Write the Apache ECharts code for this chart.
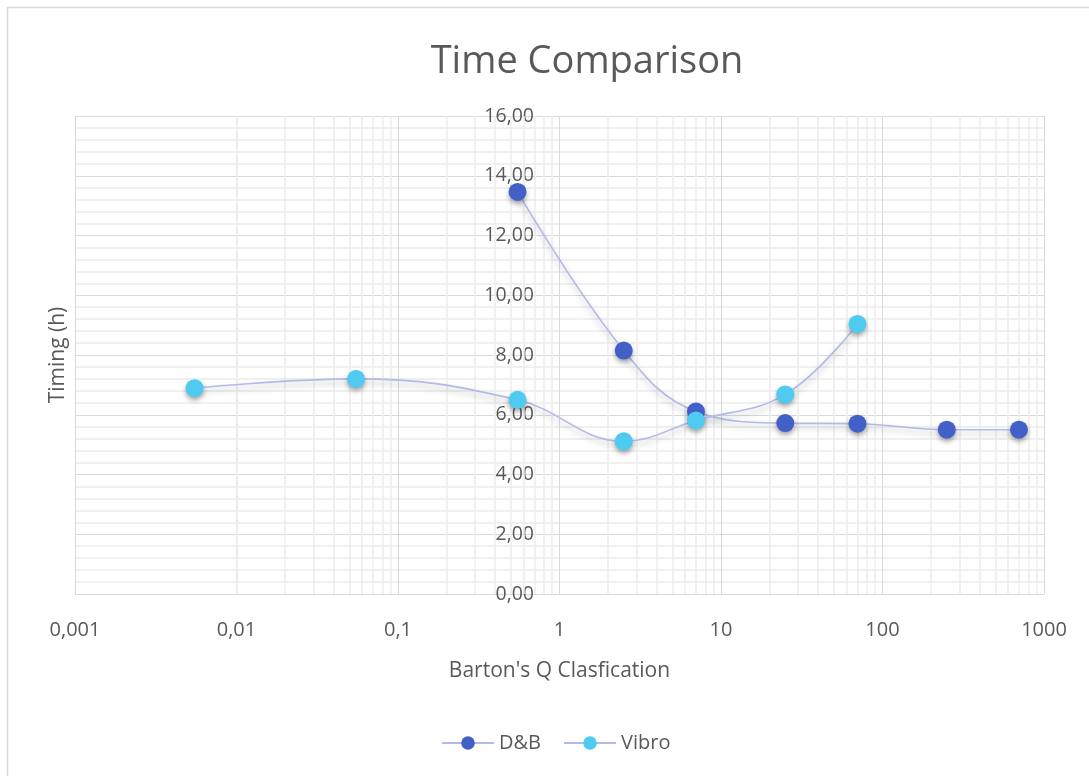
<!DOCTYPE html>
<html>
<head>
<meta charset="utf-8">
<title>Time Comparison</title>
<script src="https://cdn.jsdelivr.net/npm/echarts@6/dist/echarts.min.js"></script>
<style>
    html, body { margin: 0; padding: 0; background: #ffffff; }
    #chart { width: 1089px; height: 776px; }
</style>
</head>
<body>
<div id="chart"></div>
<script>
// Barton's Q 分类中值（x）与耗时（y）
var qValues = [0.0055, 0.055, 0.55, 2.5, 7, 25, 70, 250, 700];
var dbTiming = [null, null, 13.46, 8.15, 6.11, 5.72, 5.70, 5.50, 5.50];
var vibroTiming = [6.89, 7.20, 6.50, 5.11, 5.81, 6.68, 9.04, null, null];
var seriesNames = ['D&B', 'Vibro'];

var FONT = '"Open Sans", "Noto Sans", sans-serif';
var TEXT_COLOR = '#595959';

function pairs(xs, ys) {
    var out = [];
    for (var i = 0; i < xs.length; i++) {
        if (ys[i] == null) continue;
        out.push([xs[i], ys[i]]);
    }
    return out;
}

// 对数轴次网格线 2..9 × 10^k
function logMinorLines() {
    var lines = [];
    for (var k = -3; k < 3; k++) {
        for (var m = 2; m <= 9; m++) {
            lines.push({ xAxis: Number((m * Math.pow(10, k)).toPrecision(4)) });
        }
    }
    return lines;
}

function fmtNum(v) {
    return String(Number(v.toPrecision(6))).replace('.', ',');
}

var chart = echarts.init(document.getElementById('chart'));

var lineStyle = {
    width: 1.6,
    color: '#b3b9e8',
    shadowColor: 'rgba(0,0,0,0.28)',
    shadowBlur: 6,
    shadowOffsetY: 4
};

var option = {
    backgroundColor: '#ffffff',
    animation: false,
    title: {
        text: 'Time Comparison',
        left: 582,
        top: 38,
        textAlign: 'center',
        textStyle: {
            color: TEXT_COLOR,
            fontFamily: FONT,
            fontSize: 38,
            fontWeight: 'normal'
        }
    },
    legend: {
        data: seriesNames,
        left: 436,
        top: 728,
        itemWidth: 52,
        itemHeight: 17,
        itemGap: 22,
        textStyle: { color: TEXT_COLOR, fontFamily: FONT, fontSize: 20 }
    },
    graphic: [{
        type: 'rect',
        left: 5,
        top: 5,
        shape: { width: 1200, height: 900 },
        style: { fill: 'none', stroke: '#d9d9d9', lineWidth: 1.5 },
        silent: true,
        z: -10
    }],
    grid: {
        left: 75,
        right: 45,
        top: 116,
        bottom: 182
    },
    xAxis: {
        type: 'log',
        logBase: 10,
        min: 0.001,
        max: 1000,
        name: "Barton's Q Clasfication",
        nameLocation: 'middle',
        nameGap: 67,
        nameTextStyle: { color: TEXT_COLOR, fontFamily: FONT, fontSize: 21 },
        axisLine: { show: true, lineStyle: { color: '#d9d9d9', width: 1 } },
        axisTick: { show: false },
        axisLabel: {
            color: TEXT_COLOR,
            fontFamily: FONT,
            fontSize: 20,
            margin: 26,
            formatter: fmtNum
        },
        splitLine: { show: true, lineStyle: { color: '#d9d9d9', width: 1 } }
    },
    yAxis: {
        type: 'value',
        min: 0,
        max: 16,
        interval: 2,
        offset: -485,
        name: 'Timing (h)',
        nameLocation: 'middle',
        nameGap: 491,
        nameRotate: 90,
        nameTextStyle: { color: TEXT_COLOR, fontFamily: FONT, fontSize: 21 },
        axisLine: { show: false },
        axisTick: { show: false },
        axisLabel: {
            color: TEXT_COLOR,
            fontFamily: FONT,
            fontSize: 19.5,
            margin: 26,
            formatter: function (v) { return v.toFixed(2).replace('.', ','); }
        },
        splitLine: { show: true, lineStyle: { color: '#d9d9d9', width: 1 } },
        minorTick: { show: false, splitNumber: 5 },
        minorSplitLine: { show: true, lineStyle: { color: '#ececec', width: 1.5 } }
    },
    series: [{
        name: 'gridMinor',
        type: 'line',
        data: [],
        z: 1,
        silent: true,
        markLine: {
            silent: true,
            z: 1,
            symbol: ['none', 'none'],
            label: { show: false },
            lineStyle: { color: '#ececec', type: 'solid', width: 1.5 },
            emphasis: { disabled: true },
            data: logMinorLines()
        }
    }, {
        name: 'D&B',
        type: 'line',
        data: pairs(qValues, dbTiming),
        smooth: 0.4,
        symbol: 'circle',
        symbolSize: 18,
        z: 3,
        lineStyle: lineStyle,
        itemStyle: {
            color: '#4360c9',
            shadowColor: 'rgba(0,0,0,0.35)',
            shadowBlur: 5,
            shadowOffsetY: 3
        }
    }, {
        name: 'Vibro',
        type: 'line',
        data: pairs(qValues, vibroTiming),
        smooth: 0.4,
        symbol: 'circle',
        symbolSize: 18,
        z: 4,
        lineStyle: lineStyle,
        itemStyle: {
            color: '#4fcbf2',
            shadowColor: 'rgba(0,0,0,0.35)',
            shadowBlur: 5,
            shadowOffsetY: 3
        }
    }]
};

chart.setOption(option);
</script>
</body>
</html>
